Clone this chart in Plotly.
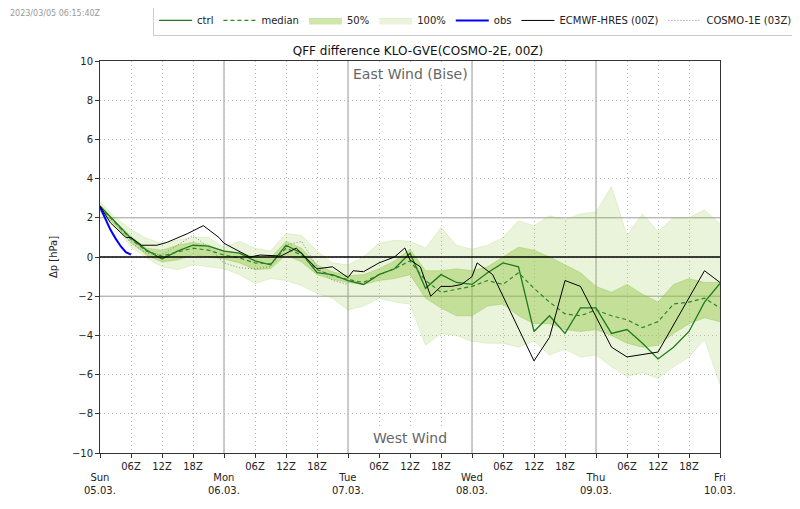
import plotly.graph_objects as go

# forecast hours since Sun 05.03. 00Z (COSMO-2E, 3-hourly)
hours = list(range(0, 121, 3))

ens_max = [2.8, 2.0, 1.4, 0.95, 0.7, 0.87, 1.0, 1.0, 0.5, 0.8, 0.45, 0.3, 1.2, 1.1, 0.3, -0.3,
           -0.4, 0.0, 0.7, 0.85, 0.8, 0.45, 1.5, 0.6, 0.4, 0.6, 1.0, 1.85, 1.6, 2.1, 1.9, 2.2,
           2.3, 3.6, 1.1, 2.2, 1.3, 2.0, 2.0, 2.4, 1.7]
ens_min = [2.3, 1.55, 0.5, -0.05, -0.5, -0.65, -0.4, -0.5, -0.6, -0.9, -1.35, -1.1, -1.2, -1.45,
           -1.85, -2.1, -2.7, -2.5, -2.1, -2.3, -2.4, -4.5, -3.9, -4.0, -4.3, -4.4, -4.4, -4.6,
           -4.3, -5.0, -4.7, -5.1, -5.0, -5.6, -6.1, -5.9, -6.2, -5.6, -5.1, -4.2, -6.5]
ens_p75 = [2.65, 1.8, 1.05, 0.45, 0.35, 0.6, 0.75, 0.6, 0.3, 0.2, 0.0, -0.05, 0.8, 0.45, -0.4,
           -0.75, -0.95, -0.9, -0.6, -0.2, 0.4, -0.7, -0.7, -0.6, -0.7, -0.5, 0.0, 0.5, 0.35, 0.0,
           -0.4, -0.8, -1.5, -1.8, -1.4, -1.9, -2.3, -1.4, -1.1, -1.3, -1.3]
ens_p25 = [2.45, 1.6, 0.75, 0.1, -0.25, -0.15, 0.1, 0.0, -0.1, -0.3, -0.65, -0.6, 0.1, -0.25,
           -0.9, -1.15, -1.3, -1.4, -1.2, -1.1, -0.9, -2.1, -2.6, -3.0, -3.0, -2.5, -2.4, -3.0,
           -3.4, -3.4, -3.7, -3.8, -3.7, -4.0, -4.4, -4.6, -4.5, -3.9, -3.4, -3.1, -3.3]
median = [2.55, 1.7, 0.9, 0.3, 0.05, 0.25, 0.45, 0.35, 0.1, -0.05, -0.3, -0.35, 0.45, 0.1,
          -0.65, -0.95, -1.15, -1.3, -0.9, -0.6, -0.2, -1.2, -1.8, -1.65, -1.5, -1.2, -1.4, -0.8,
          -1.6, -2.3, -2.9, -3.0, -2.7, -3.0, -3.2, -3.6, -3.3, -2.4, -2.3, -2.1, -2.6]
ctrl = [2.6, 1.75, 0.95, 0.35, -0.1, 0.3, 0.6, 0.55, 0.3, 0.2, -0.2, -0.4, 0.6, 0.2, -0.8,
        -0.9, -1.2, -1.4, -0.9, -0.6, 0.2, -1.6, -0.9, -1.3, -1.4, -0.8, -0.3, -0.5, -3.8, -3.0,
        -3.9, -2.6, -2.6, -3.9, -3.7, -4.4, -5.2, -4.6, -3.8, -2.3, -1.35]

obs_hours = [0, 1, 2, 3, 4, 5, 6]
obs = [2.55, 1.95, 1.4, 0.95, 0.55, 0.25, 0.12]

hres_hours = [0, 2, 5, 6, 8, 11, 13, 17, 20, 23, 24, 29, 31, 35, 38, 42, 45, 48, 49, 51, 54,
              57, 59, 60, 62, 64, 66, 68, 70, 72, 73, 76, 84, 87, 90, 93, 99, 102, 108, 117, 120]
hres = [2.6, 1.75, 1.0, 1.0, 0.6, 0.6, 0.75, 1.2, 1.6, 1.0, 0.7, 0.0, 0.1, 0.05, 0.45, -0.6,
        -0.5, -1.05, -0.7, -0.75, -0.3, 0.0, 0.46, -0.15, -0.5, -2.0, -1.5, -1.5, -1.4, -1.0,
        -0.3, -0.9, -5.3, -4.1, -1.2, -1.5, -4.6, -5.1, -4.85, -0.7, -1.3]

c1e_hours = list(range(3, 49, 3))
c1e = [1.7, 0.7, 0.2, 0.1, 0.6, 1.1, 0.5, -0.3, -0.55, -0.6, -0.5, 0.6, 0.8, -0.5, -1.2, -1.4]

day_hours = [0, 24, 48, 72, 96, 120]
day_labels = ["Sun<br>05.03.", "Mon<br>06.03.", "Tue<br>07.03.", "Wed<br>08.03.",
              "Thu<br>09.03.", "Fri<br>10.03."]
tick_hours = list(range(0, 121, 6))
tick_text = ["" if h % 24 == 0 else "%02dZ" % (h % 24) for h in tick_hours]

fig = go.Figure()

# 100% band
fig.add_trace(go.Scatter(x=hours, y=ens_min, mode="lines", line=dict(width=0.6, color="rgba(150,200,70,0.35)"),
                         showlegend=False, hoverinfo="skip"))
fig.add_trace(go.Scatter(x=hours, y=ens_max, mode="lines", fill="tonexty", fillcolor="rgba(150,200,70,0.2)",
                         line=dict(width=0.6, color="rgba(150,200,70,0.35)"), name="100%", legendrank=4))
# 50% band
fig.add_trace(go.Scatter(x=hours, y=ens_p25, mode="lines", line=dict(width=0.6, color="rgba(120,180,50,0.5)"),
                         showlegend=False, hoverinfo="skip"))
fig.add_trace(go.Scatter(x=hours, y=ens_p75, mode="lines", fill="tonexty", fillcolor="rgba(150,200,70,0.45)",
                         line=dict(width=0.6, color="rgba(120,180,50,0.5)"), name="50%", legendrank=3))

fig.add_trace(go.Scatter(x=hours, y=ctrl, mode="lines", line=dict(color="#1f7a1f", width=1.3),
                         name="ctrl", legendrank=1))
fig.add_trace(go.Scatter(x=hours, y=median, mode="lines", line=dict(color="#2f852f", width=1.2, dash="4px,3px"),
                         name="median", legendrank=2))
fig.add_trace(go.Scatter(x=obs_hours, y=obs, mode="lines", line=dict(color="#0000ff", width=2),
                         name="obs", legendrank=5))
fig.add_trace(go.Scatter(x=hres_hours, y=hres, mode="lines", line=dict(color="black", width=1),
                         name="ECMWF-HRES (00Z)", legendrank=6))
fig.add_trace(go.Scatter(x=c1e_hours, y=c1e, mode="lines", line=dict(color="#888888", width=1, dash="1px,2px"),
                         name="COSMO-1E (03Z)", legendrank=7))

# day boundaries, +-2 hPa lines and zero line
for h in day_hours[1:-1]:
    fig.add_shape(type="line", xref="x", yref="paper", x0=h, x1=h, y0=0, y1=1,
                  line=dict(color="#999999", width=1), layer="below")
for v in [-2, 2]:
    fig.add_shape(type="line", xref="paper", yref="y", x0=0, x1=1, y0=v, y1=v,
                  line=dict(color="#999999", width=1), layer="below")
fig.add_shape(type="line", xref="paper", yref="y", x0=0, x1=1, y0=0, y1=0,
              line=dict(color="black", width=1.5), layer="above")

for h, lab in zip(day_hours, day_labels):
    fig.add_annotation(x=h, xref="x", y=0, yref="paper", yshift=-17, yanchor="top", text=lab,
                       showarrow=False, font=dict(size=10, color="#222222"))

fig.add_annotation(x=0.5, xref="paper", y=1, yref="paper", yshift=-3, yanchor="top",
                   text="East Wind (Bise)", showarrow=False, bgcolor="white",
                   font=dict(size=14, color="#666666"))
fig.add_annotation(x=0.5, xref="paper", y=0, yref="paper", yshift=5, yanchor="bottom",
                   text="West Wind", showarrow=False, bgcolor="white",
                   font=dict(size=14, color="#666666"))
fig.add_annotation(x=-0.148, xref="paper", y=1.122, yref="paper", xanchor="left", yanchor="middle",
                   text="2023/03/05 06:15:40Z", showarrow=False, font=dict(size=8, color="#999999"))

# the page puts the figure 8px in from the top-left corner, margins compensate
fig.update_layout(
    width=800, height=509,
    margin=dict(l=92, r=88, t=53, b=64, autoexpand=False),
    paper_bgcolor="white", plot_bgcolor="white",
    font=dict(family="DejaVu Sans", size=10, color="#222222"),
    title=dict(text="QFF difference KLO-GVE(COSMO-2E, 00Z)", x=0.5125, xanchor="center",
               y=0.908, yanchor="bottom", font=dict(size=12, color="#111111")),
    legend=dict(orientation="h", x=1.126, xanchor="right", y=1.143, yanchor="top",
                bordercolor="#cccccc", borderwidth=1, font=dict(size=10), itemwidth=33,
                bgcolor="white", traceorder="normal"),
    showlegend=True,
)
fig.update_xaxes(range=[0, 120], tickvals=tick_hours, ticktext=tick_text, showgrid=True,
                 gridcolor="#bbbbbb", griddash="1px,3px", gridwidth=1, zeroline=False,
                 showline=True, linecolor="#333333", mirror=True, ticks="outside", ticklen=4,
                 tickcolor="#333333")
fig.update_yaxes(range=[-10, 10], dtick=2, showgrid=True, gridcolor="#bbbbbb", griddash="1px,3px",
                 gridwidth=1, zeroline=False, showline=True, linecolor="#333333", mirror=True,
                 ticks="outside", ticklen=4, tickcolor="#333333",
                 title=dict(text="Δp [hPa]", font=dict(size=10), standoff=12))

fig.write_html("out.html")
